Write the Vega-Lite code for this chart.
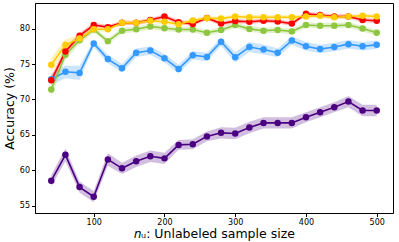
{
  "$schema": "https://vega.github.io/schema/vega-lite/v6.json",
  "width": 358,
  "height": 210,
  "autosize": {"type": "none"},
  "padding": {"left": 35, "top": 3, "right": 6, "bottom": 29},
  "config": {
    "view": {"stroke": "black", "strokeWidth": 1},
    "axis": {
      "grid": false,
      "domainColor": "black",
      "tickColor": "black",
      "labelColor": "black",
      "titleColor": "black",
      "labelFont": "DejaVu Sans",
      "titleFont": "DejaVu Sans",
      "labelFontSize": 8,
      "titleFontSize": 12.5,
      "titleFontWeight": "normal",
      "tickSize": 3.5,
      "labelPadding": 2
    }
  },
  "data": {"values": [
    {"m":"P","n":40,"acc":58.55,"lo":57.75,"hi":59.35},
    {"m":"P","n":60,"acc":62.2,"lo":61.3,"hi":63.1},
    {"m":"P","n":80,"acc":57.65,"lo":56.85,"hi":58.45},
    {"m":"P","n":100,"acc":56.3,"lo":55.5,"hi":57.1},
    {"m":"P","n":120,"acc":61.55,"lo":60.65,"hi":62.45},
    {"m":"P","n":140,"acc":60.3,"lo":59.5,"hi":61.1},
    {"m":"P","n":160,"acc":61.3,"lo":60.5,"hi":62.1},
    {"m":"P","n":180,"acc":62.0,"lo":61.2,"hi":62.8},
    {"m":"P","n":200,"acc":61.7,"lo":60.9,"hi":62.5},
    {"m":"P","n":220,"acc":63.6,"lo":62.9,"hi":64.3},
    {"m":"P","n":240,"acc":63.7,"lo":63.0,"hi":64.4},
    {"m":"P","n":260,"acc":64.8,"lo":64.1,"hi":65.5},
    {"m":"P","n":280,"acc":65.3,"lo":64.5,"hi":66.1},
    {"m":"P","n":300,"acc":65.2,"lo":64.4,"hi":66.0},
    {"m":"P","n":320,"acc":66.05,"lo":65.25,"hi":66.85},
    {"m":"P","n":340,"acc":66.7,"lo":65.9,"hi":67.5},
    {"m":"P","n":360,"acc":66.7,"lo":65.9,"hi":67.5},
    {"m":"P","n":380,"acc":66.7,"lo":65.9,"hi":67.5},
    {"m":"P","n":400,"acc":67.5,"lo":66.8,"hi":68.2},
    {"m":"P","n":420,"acc":68.2,"lo":67.5,"hi":68.9},
    {"m":"P","n":440,"acc":68.9,"lo":68.2,"hi":69.6},
    {"m":"P","n":460,"acc":69.7,"lo":68.9,"hi":70.5},
    {"m":"P","n":480,"acc":68.45,"lo":67.65,"hi":69.25},
    {"m":"P","n":500,"acc":68.45,"lo":67.65,"hi":69.25},
    {"m":"B","n":40,"acc":72.86,"lo":72.06,"hi":73.66},
    {"m":"B","n":60,"acc":73.9,"lo":73.0,"hi":74.8},
    {"m":"B","n":80,"acc":73.75,"lo":72.75,"hi":74.75},
    {"m":"B","n":100,"acc":77.9,"lo":77.4,"hi":78.4},
    {"m":"B","n":120,"acc":75.7,"lo":75.1,"hi":76.3},
    {"m":"B","n":140,"acc":74.4,"lo":73.8,"hi":75.0},
    {"m":"B","n":160,"acc":76.6,"lo":76.0,"hi":77.2},
    {"m":"B","n":180,"acc":76.9,"lo":76.3,"hi":77.5},
    {"m":"B","n":200,"acc":75.8,"lo":75.2,"hi":76.4},
    {"m":"B","n":220,"acc":74.3,"lo":73.7,"hi":74.9},
    {"m":"B","n":240,"acc":76.25,"lo":75.65,"hi":76.85},
    {"m":"B","n":260,"acc":76.0,"lo":75.4,"hi":76.6},
    {"m":"B","n":280,"acc":78.15,"lo":77.55,"hi":78.75},
    {"m":"B","n":300,"acc":75.96,"lo":75.26,"hi":76.66},
    {"m":"B","n":320,"acc":77.4,"lo":76.7,"hi":78.1},
    {"m":"B","n":340,"acc":77.05,"lo":76.35,"hi":77.75},
    {"m":"B","n":360,"acc":76.6,"lo":76.0,"hi":77.2},
    {"m":"B","n":380,"acc":78.3,"lo":77.7,"hi":78.9},
    {"m":"B","n":400,"acc":77.5,"lo":76.9,"hi":78.1},
    {"m":"B","n":420,"acc":77.1,"lo":76.5,"hi":77.7},
    {"m":"B","n":440,"acc":77.4,"lo":76.8,"hi":78.0},
    {"m":"B","n":460,"acc":77.8,"lo":77.2,"hi":78.4},
    {"m":"B","n":480,"acc":77.5,"lo":76.9,"hi":78.1},
    {"m":"B","n":500,"acc":77.7,"lo":77.1,"hi":78.3},
    {"m":"G","n":40,"acc":71.4,"lo":70.4,"hi":72.4},
    {"m":"G","n":60,"acc":76.3,"lo":75.6,"hi":77.0},
    {"m":"G","n":80,"acc":78.35,"lo":77.85,"hi":78.85},
    {"m":"G","n":100,"acc":79.86,"lo":79.46,"hi":80.26},
    {"m":"G","n":120,"acc":78.2,"lo":77.8,"hi":78.6},
    {"m":"G","n":140,"acc":79.7,"lo":79.3,"hi":80.1},
    {"m":"G","n":160,"acc":79.9,"lo":79.5,"hi":80.3},
    {"m":"G","n":180,"acc":80.3,"lo":79.9,"hi":80.7},
    {"m":"G","n":200,"acc":80.05,"lo":79.65,"hi":80.45},
    {"m":"G","n":220,"acc":79.86,"lo":79.46,"hi":80.26},
    {"m":"G","n":240,"acc":79.86,"lo":79.46,"hi":80.26},
    {"m":"G","n":260,"acc":79.4,"lo":79.0,"hi":79.8},
    {"m":"G","n":280,"acc":79.8,"lo":79.4,"hi":80.2},
    {"m":"G","n":300,"acc":80.5,"lo":80.1,"hi":80.9},
    {"m":"G","n":320,"acc":79.95,"lo":79.55,"hi":80.35},
    {"m":"G","n":340,"acc":79.7,"lo":79.3,"hi":80.1},
    {"m":"G","n":360,"acc":79.8,"lo":79.4,"hi":80.2},
    {"m":"G","n":380,"acc":79.6,"lo":79.2,"hi":80.0},
    {"m":"G","n":400,"acc":80.5,"lo":80.1,"hi":80.9},
    {"m":"G","n":420,"acc":80.4,"lo":80.0,"hi":80.8},
    {"m":"G","n":440,"acc":80.4,"lo":80.0,"hi":80.8},
    {"m":"G","n":460,"acc":80.5,"lo":80.1,"hi":80.9},
    {"m":"G","n":480,"acc":80.0,"lo":79.6,"hi":80.4},
    {"m":"G","n":500,"acc":79.4,"lo":79.0,"hi":79.8},
    {"m":"R","n":40,"acc":72.7,"lo":72.1,"hi":73.3},
    {"m":"R","n":60,"acc":76.76,"lo":76.16,"hi":77.36},
    {"m":"R","n":80,"acc":79.0,"lo":78.6,"hi":79.4},
    {"m":"R","n":100,"acc":80.5,"lo":80.2,"hi":80.8},
    {"m":"R","n":120,"acc":80.2,"lo":79.9,"hi":80.5},
    {"m":"R","n":140,"acc":80.8,"lo":80.5,"hi":81.1},
    {"m":"R","n":160,"acc":80.8,"lo":80.5,"hi":81.1},
    {"m":"R","n":180,"acc":81.2,"lo":80.9,"hi":81.5},
    {"m":"R","n":200,"acc":81.7,"lo":81.4,"hi":82.0},
    {"m":"R","n":220,"acc":80.9,"lo":80.6,"hi":81.2},
    {"m":"R","n":240,"acc":80.65,"lo":80.35,"hi":80.95},
    {"m":"R","n":260,"acc":81.5,"lo":81.2,"hi":81.8},
    {"m":"R","n":280,"acc":80.7,"lo":80.4,"hi":81.0},
    {"m":"R","n":300,"acc":81.05,"lo":80.75,"hi":81.35},
    {"m":"R","n":320,"acc":80.95,"lo":80.65,"hi":81.25},
    {"m":"R","n":340,"acc":81.1,"lo":80.8,"hi":81.4},
    {"m":"R","n":360,"acc":81.0,"lo":80.7,"hi":81.3},
    {"m":"R","n":380,"acc":80.7,"lo":80.4,"hi":81.0},
    {"m":"R","n":400,"acc":82.07,"lo":81.77,"hi":82.37},
    {"m":"R","n":420,"acc":81.9,"lo":81.6,"hi":82.2},
    {"m":"R","n":440,"acc":81.7,"lo":81.4,"hi":82.0},
    {"m":"R","n":460,"acc":81.7,"lo":81.4,"hi":82.0},
    {"m":"R","n":480,"acc":81.2,"lo":80.9,"hi":81.5},
    {"m":"R","n":500,"acc":81.1,"lo":80.8,"hi":81.4},
    {"m":"Y","n":40,"acc":74.9,"lo":73.9,"hi":75.9},
    {"m":"Y","n":60,"acc":77.7,"lo":76.9,"hi":78.5},
    {"m":"Y","n":80,"acc":78.6,"lo":78.1,"hi":79.1},
    {"m":"Y","n":100,"acc":79.9,"lo":79.6,"hi":80.2},
    {"m":"Y","n":120,"acc":79.9,"lo":79.6,"hi":80.2},
    {"m":"Y","n":140,"acc":80.8,"lo":80.5,"hi":81.1},
    {"m":"Y","n":160,"acc":80.8,"lo":80.5,"hi":81.1},
    {"m":"Y","n":180,"acc":81.1,"lo":80.8,"hi":81.4},
    {"m":"Y","n":200,"acc":80.95,"lo":80.65,"hi":81.25},
    {"m":"Y","n":220,"acc":80.6,"lo":80.3,"hi":80.9},
    {"m":"Y","n":240,"acc":81.15,"lo":80.85,"hi":81.45},
    {"m":"Y","n":260,"acc":81.45,"lo":81.15,"hi":81.75},
    {"m":"Y","n":280,"acc":81.4,"lo":81.1,"hi":81.7},
    {"m":"Y","n":300,"acc":81.7,"lo":81.4,"hi":82.0},
    {"m":"Y","n":320,"acc":81.6,"lo":81.3,"hi":81.9},
    {"m":"Y","n":340,"acc":81.6,"lo":81.3,"hi":81.9},
    {"m":"Y","n":360,"acc":81.6,"lo":81.3,"hi":81.9},
    {"m":"Y","n":380,"acc":81.6,"lo":81.3,"hi":81.9},
    {"m":"Y","n":400,"acc":81.7,"lo":81.4,"hi":82.0},
    {"m":"Y","n":420,"acc":81.8,"lo":81.5,"hi":82.1},
    {"m":"Y","n":440,"acc":81.6,"lo":81.3,"hi":81.9},
    {"m":"Y","n":460,"acc":81.7,"lo":81.4,"hi":82.0},
    {"m":"Y","n":480,"acc":81.8,"lo":81.5,"hi":82.1},
    {"m":"Y","n":500,"acc":81.7,"lo":81.4,"hi":82.0}
  ]},
  "encoding": {
    "x": {"field": "n", "type": "quantitative",
          "scale": {"domain": [17, 523], "nice": false, "zero": false},
          "axis": {"values": [100, 200, 300, 400, 500], "title": "𝑛ᵤ: Unlabeled sample size", "titlePadding": 1}},
    "color": {"field": "m", "type": "nominal", "legend": null,
              "scale": {"domain": ["P", "B", "G", "R", "Y"], "range": ["#4b0082", "#3399ff", "#8ec63f", "#ff0000", "#ffcc00"]}}
  },
  "layer": [
    {"mark": {"type": "area", "opacity": 0.25},
     "encoding": {
       "y": {"field": "lo", "type": "quantitative",
             "scale": {"domain": [54.0, 83.6], "nice": false, "zero": false},
             "axis": {"values": [55, 60, 65, 70, 75, 80], "title": "Accuracy (%)", "titlePadding": 3}},
       "y2": {"field": "hi"}
     }},
    {"mark": {"type": "line", "strokeWidth": 1.6},
     "encoding": {"y": {"field": "acc", "type": "quantitative"}}},
    {"mark": {"type": "point", "filled": true, "opacity": 1, "size": 42},
     "encoding": {"y": {"field": "acc", "type": "quantitative"}}}
  ]
}
